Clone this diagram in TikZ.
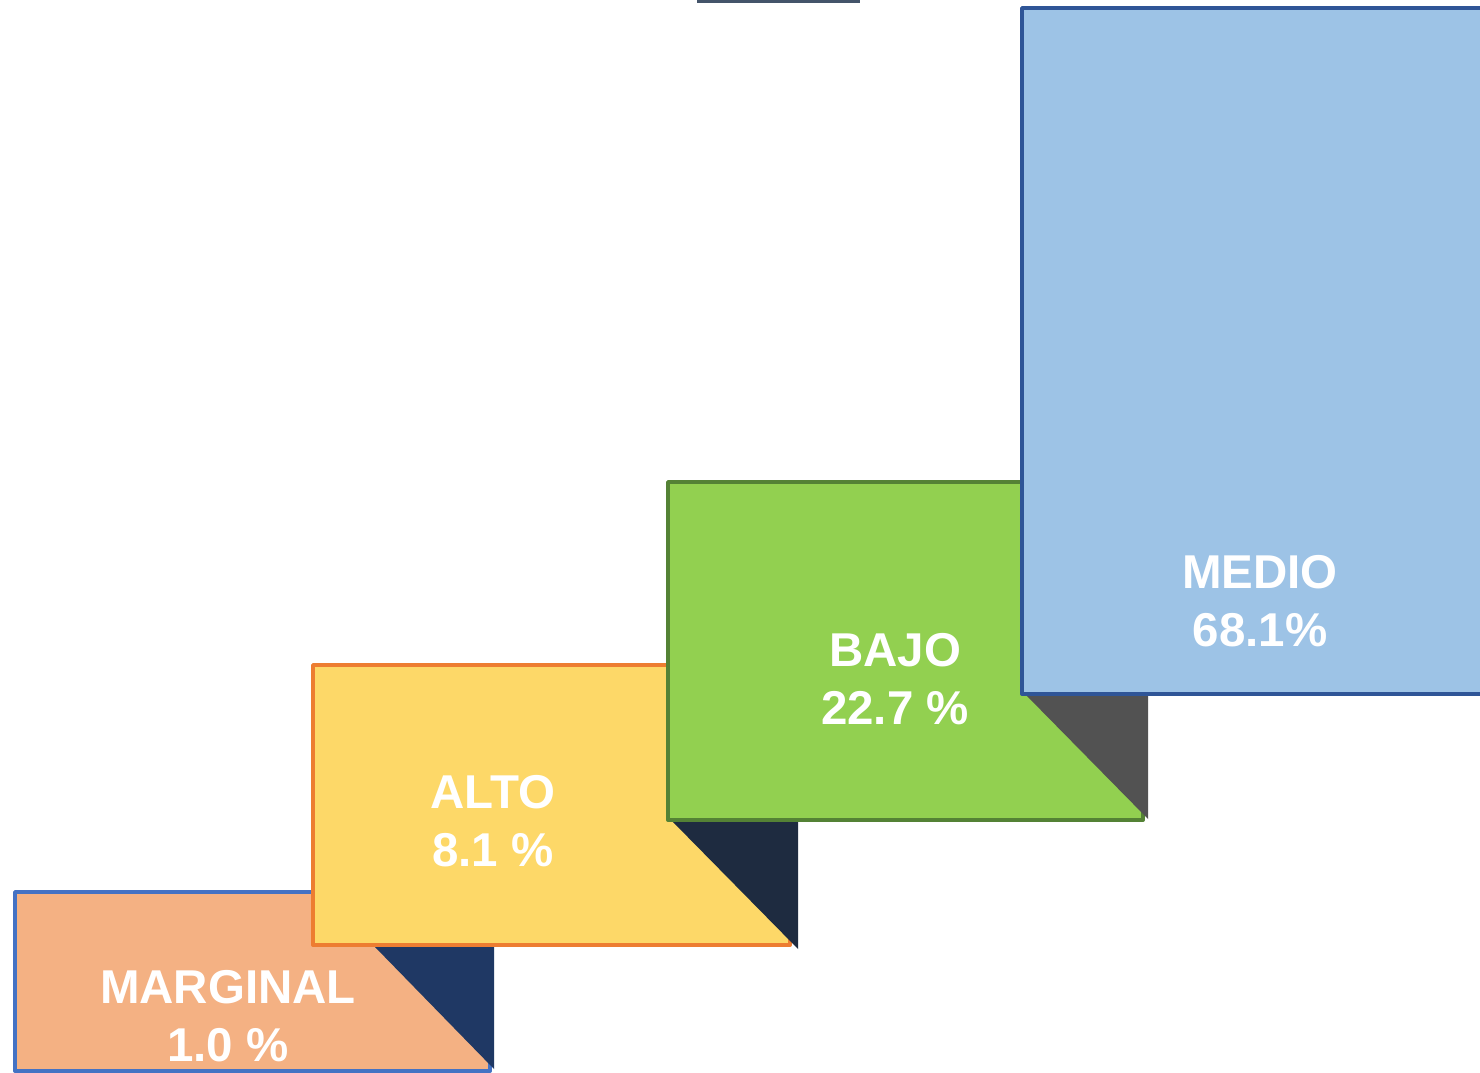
\documentclass[tikz,border=0pt]{standalone}
\usepackage{fontspec}
\setmainfont{Liberation Sans}
\definecolor{margfill}{HTML}{F4B183}
\definecolor{margline}{HTML}{4472C4}
\definecolor{shadowA}{HTML}{1F3864}
\definecolor{altofill}{HTML}{FDD868}
\definecolor{altoline}{HTML}{ED7D31}
\definecolor{shadowB}{HTML}{1E2B40}
\definecolor{bajofill}{HTML}{92D050}
\definecolor{bajoline}{HTML}{548235}
\definecolor{shadowC}{HTML}{525252}
\definecolor{mediofill}{HTML}{9DC3E6}
\definecolor{medioline}{HTML}{2F5597}
\definecolor{topbar}{HTML}{44546A}
\tikzset{
  stepbox/.style={line width=2.9pt, line join=round},
  lbl/.style={text=white, font=\bfseries\fontsize{35.6}{44}\selectfont, align=center, inner sep=0pt}
}
\begin{document}
\begin{tikzpicture}[x=0.75pt,y=-0.75pt]
\clip (0,0) rectangle (1480,1073);
\fill[white] (0,0) rectangle (1480,1073);
% top bar
\fill[topbar] (697,-2) rectangle (860,3);
% MARGINAL
\draw[stepbox, fill=margfill, draw=margline] (15,892) rectangle (490,1071);
\fill[shadowA] (375,947) -- (494,947) -- (494,1069) -- cycle;
% ALTO
\draw[stepbox, fill=altofill, draw=altoline] (313,665) rectangle (790,945);
\fill[shadowB] (672,821) -- (798,821) -- (798,949) -- cycle;
% BAJO
\draw[stepbox, fill=bajofill, draw=bajoline] (668,482) rectangle (1143,820);
\fill[shadowC] (1025,694) -- (1148,694) -- (1148,819) -- cycle;
% MEDIO
\draw[stepbox, fill=mediofill, draw=medioline] (1022,8) rectangle (1500,694);
% labels
\node[lbl] (marg) at (228,1016) {MARGINAL\\1.0 \%};
\node[lbl] (alto) at (493,821) {ALTO\\8.1 \%};
\node[lbl] (bajo) at (895,679) {BAJO\\22.7 \%};
\node[lbl] (medio) at (1260,601) {MEDIO\\68.1\%};
\end{tikzpicture}
\end{document}
